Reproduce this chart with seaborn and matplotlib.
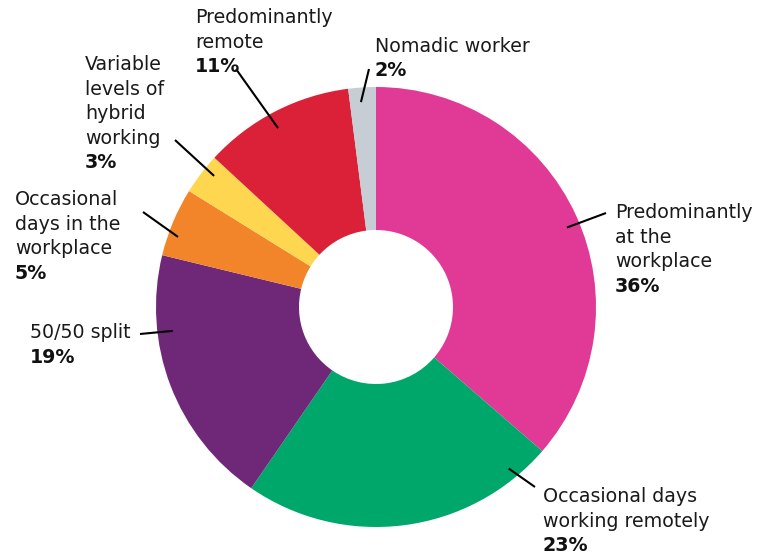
import numpy as np
import seaborn as sns
import matplotlib.pyplot as plt

# 数据
labels = ['Predominantly\nat the\nworkplace', 'Occasional days\nworking remotely', '50/50 split',
          'Occasional\ndays in the\nworkplace', 'Variable\nlevels of\nhybrid\nworking',
          'Predominantly\nremote', 'Nomadic worker']
values = [36, 23, 19, 5, 3, 11, 2]
colors = ['#E03A96', '#00A76A', '#6E2877', '#F2852A', '#FFD64F', '#DA2138', '#C7CDD4']

# 标注位置（像素）：引线内端角度/半径，引线外端，文字左上
leader_ang = [22.6, -50.6, 186.7, 160.5, 141.0, 118.7, 94.2]
leader_r = [0.94, 0.95, 0.93, 0.955, 0.947, 0.927, 0.934]
leader_end = [(606, 213), (535, 487), (140, 334), (143, 212), (175, 140), (236, 69), (369, 69)]
text_pos = [(615, 213), (543, 497), (30, 333), (15, 200), (85, 65), (195, 18), (375, 46)]

sns.set_theme(style='white')
plt.rcParams['font.family'] = ['DejaVu Sans']

W, H = 764, 558
R = 220.0
cx, cy = 376, 307

fig = plt.figure(figsize=(W / 100, H / 100), dpi=100)
ax = fig.add_axes([0, 0, 1, 1])


def px(x, y):
    return (x - cx) / R, (cy - y) / R


ax.pie(values, colors=colors, startangle=90, counterclock=False, radius=1.0,
       wedgeprops=dict(width=0.65, linewidth=0))
# pie 会重设坐标范围，这里再设回来
ax.set_xlim(-cx / R, (W - cx) / R)
ax.set_ylim(-(H - cy) / R, cy / R)
ax.set_aspect('equal')
ax.axis('off')

step = 24.4
for i, name in enumerate(labels):
    a = np.deg2rad(leader_ang[i])
    x0, y0 = leader_r[i] * np.cos(a), leader_r[i] * np.sin(a)
    x1, y1 = px(*leader_end[i])
    ax.plot([x0, x1], [y0, y1], color='black', lw=1.5, solid_capstyle='butt')
    tx, ty = text_pos[i]
    lines = name.split('\n')
    for j, ln in enumerate(lines):
        ax.text(*px(tx, ty + j * step), ln, fontsize=13.7, color='#1a1a1a', ha='left', va='center')
    ax.text(*px(tx, ty + len(lines) * step), f'{values[i]}%', fontsize=13.7, fontweight='bold',
            color='#111111', ha='left', va='center')

plt.savefig('out.png', dpi=100)
